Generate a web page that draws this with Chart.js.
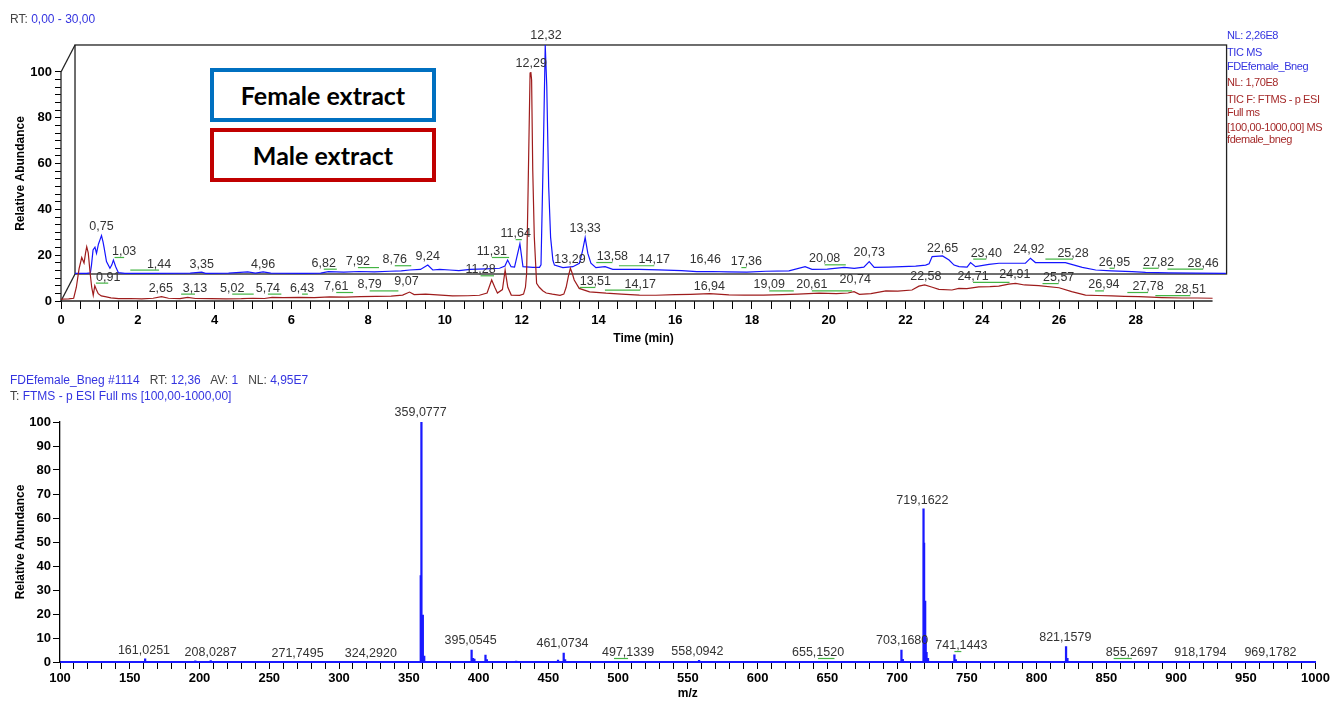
<!DOCTYPE html>
<html>
<head>
<meta charset="utf-8">
<script src="https://cdn.jsdelivr.net/npm/chart.js@4.4.1/dist/chart.umd.min.js"></script>
<style>
  body { margin: 0; background: #fff; }
  #lienzo { position: relative; width: 1332px; height: 701px; overflow: hidden;
            font-family: "Liberation Sans", Arial, sans-serif; }
  canvas { position: absolute; left: 0; }
  #g1 { top: 0; }
  #g2 { top: 370px; }
  .txt { position: absolute; white-space: pre; font-size: 12px; line-height: 14px; }
  .der { font-size: 11px; letter-spacing: -0.4px; left: 1227px; }
  .az { color: #3434e0; }
  .gr { color: #444; }
  .rj { color: #a52a2a; }
  .caja { position: absolute; box-sizing: border-box; width: 226px; height: 54px;
          border: 4px solid; background: #fff; color: #000;
          font-family: Lato, "Open Sans", sans-serif; font-weight: bold; font-size: 25px;
          display: flex; align-items: center; justify-content: center; }
</style>
</head>
<body>
<div id="lienzo">
  <canvas id="g1" width="1332" height="352" style="width:1332px;height:352px"></canvas>
  <canvas id="g2" width="1332" height="331" style="width:1332px;height:331px"></canvas>

  <div class="txt" style="left:10px;top:12px"><span class="gr">RT: </span><span class="az">0,00 - 30,00</span></div>

  <div class="txt der az" style="top:28px">NL: 2,26E8</div>
  <div class="txt der az" style="top:45px">TIC MS</div>
  <div class="txt der az" style="top:59px">FDEfemale_Bneg</div>
  <div class="txt der rj" style="top:75px">NL: 1,70E8</div>
  <div class="txt der rj" style="top:92px">TIC F: FTMS - p ESI</div>
  <div class="txt der rj" style="top:105px">Full ms</div>
  <div class="txt der rj" style="top:120px">[100,00-1000,00] MS</div>
  <div class="txt der rj" style="top:132px">fdemale_bneg</div>

  <div class="caja" style="left:210px;top:68px;border-color:#0070c0">Female extract</div>
  <div class="caja" style="left:210px;top:128px;border-color:#c00000">Male extract</div>

  <div class="txt" style="left:10px;top:373px"><span class="az">FDEfemale_Bneg #1114   </span><span class="gr">RT: </span><span class="az">12,36   </span><span class="gr">AV: </span><span class="az">1   </span><span class="gr">NL: </span><span class="az">4,95E7</span></div>
  <div class="txt" style="left:10px;top:389px"><span class="gr">T: </span><span class="az">FTMS - p ESI Full ms [100,00-1000,00]</span></div>
</div>

<script>
// -----------------------------------------------------------
// datos leidos de la figura
// cromatograma: [tiempo (min), abundancia relativa]
// -----------------------------------------------------------
const tic_macho = [
  [0,0.8],[0.2,0.9],[0.33,1.2],[0.4,6],[0.47,14],[0.54,19],[0.6,16.6],[0.64,21],[0.67,23.7],
  [0.71,21],[0.76,12],[0.8,6],[0.84,2.5],[0.88,6.7],[0.92,5],[0.97,3.2],[1.05,2.2],[1.15,1.9],
  [1.3,1.4],[1.5,1],[1.8,1.1],[2.1,0.9],[2.4,1.2],[2.62,1.9],[2.8,1.2],[3.1,1],[3.3,1.6],[3.5,1.1],
  [3.9,1],[4.3,0.9],[4.7,1],[5.0,1.2],[5.3,1.1],[5.5,1.6],[5.8,1.5],[6.2,1.6],[6.6,1.5],[7.0,1.8],
  [7.4,1.7],[7.8,1.9],[8.2,2],[8.6,2.1],[8.9,2.6],[9.08,3.9],[9.2,2.8],[9.5,3],[9.9,2.6],[10.2,2.2],
  [10.6,2.3],[10.9,2.5],[11.1,3.5],[11.22,9.2],[11.3,6],[11.37,3.5],[11.5,5],[11.57,13.5],[11.64,6],
  [11.73,2.6],[11.95,2.5],[12.05,3],[12.1,6],[12.13,12],[12.17,50],[12.22,99.5],[12.24,100],
  [12.26,96.5],[12.29,57],[12.33,28],[12.39,7.7],[12.46,6],[12.55,4.5],[12.64,3.5],[12.8,3],
  [13.0,2.5],[13.1,3],[13.16,6],[13.22,11],[13.27,14.3],[13.32,12],[13.37,9.2],[13.5,5.5],
  [13.77,4],[14.2,3.4],[14.6,3],[15.07,2.6],[15.5,2.5],[16.0,2.8],[16.4,2.9],[16.9,3.2],[17.4,2.7],
  [17.8,2.6],[18.3,2.6],[18.8,2.8],[19.2,3],[19.75,3.4],[20.2,3.2],[20.5,3.5],[20.66,4.1],[20.8,2.9],
  [21.1,3.2],[21.49,4.4],[21.8,4.3],[22.17,4.8],[22.35,6.5],[22.5,7],[22.7,6],[22.87,5.1],
  [23.21,4.8],[23.39,5.5],[23.6,5.4],[23.91,6.2],[24.2,6.3],[24.43,6.5],[24.69,7.4],[24.87,7.7],
  [25.1,7],[25.47,6.7],[26.0,5.8],[26.33,4.1],[26.69,2.6],[27.0,2.4],[27.38,2.2],[27.7,2],
  [28.08,1.9],[28.4,1.7],[28.68,1.5],[29.2,1.3],[29.6,1.3],[30.0,1.2]
];

const tic_hembra = [
  [0,0.3],[0.3,0.3],[0.4,0.5],[0.43,4],[0.47,10.5],[0.52,11.7],[0.56,9],[0.61,13],[0.65,14.9],
  [0.69,16.8],[0.73,14],[0.76,11.3],[0.82,5.4],[0.91,2.5],[0.96,4],[1.0,6.1],[1.06,3.2],[1.13,0.6],
  [1.3,0.3],[2.0,0.3],[3.0,0.4],[3.3,0.8],[3.4,0.3],[4.0,0.4],[4.5,0.9],[4.7,0.4],[4.9,0.9],[5.1,0.4],
  [6.0,0.3],[6.4,0.4],[6.6,1],[7.0,0.8],[7.4,1.1],[7.8,0.9],[8.2,1.2],[8.5,1.4],[8.72,1.75],[9.0,2],
  [9.19,3.9],[9.32,1.75],[9.5,2],[9.76,1.75],[10.0,1.5],[10.3,2],[10.7,2.2],[11.06,2.5],[11.2,3.5],
  [11.27,6.1],[11.36,3.2],[11.45,3],[11.59,13.2],[11.67,3.2],[11.93,2.9],[12.1,2.9],[12.14,4],
  [12.2,53],[12.25,100],[12.29,82],[12.34,38],[12.39,16],[12.45,6],[12.49,3.9],[12.71,2.8],
  [12.97,3.2],[13.14,4.7],[13.22,10],[13.29,15.9],[13.36,9],[13.44,4.7],[13.57,2.8],[13.81,3.2],
  [14.01,2],[14.7,2],[15.2,1.8],[15.8,1.5],[16.2,1],[16.6,1.1],[17.0,0.9],[17.5,0.8],[18.0,1.2],
  [18.6,1.4],[19.02,3.2],[19.2,2],[19.6,2.1],[20.04,2.9],[20.3,2.5],[20.55,3],[20.69,5.4],
  [20.82,2.9],[21.2,3],[21.55,3.2],[21.9,3.4],[22.16,3.9],[22.25,4.5],[22.33,7.6],[22.6,7.9],
  [22.77,6.1],[22.9,3.9],[23.03,3.2],[23.24,3],[23.33,5],[23.46,3.2],[23.81,4.2],[24.07,4.7],
  [24.76,4.7],[24.89,6.9],[25.02,5],[25.8,5],[26.24,2.9],[26.59,1.75],[27.0,1.4],[27.54,1],
  [27.89,0.7],[28.5,0.5],[29.2,0.4],[29.98,0.3]
];

// tiempos de retencion rotulados en cada traza
const rt_hembra = [0.75,1.03,1.44,3.35,4.96,6.82,7.92,8.76,9.24,11.31,11.64,12.32,13.33,13.58,
  14.17,16.46,17.36,20.08,20.73,22.65,23.40,24.92,25.28,26.95,27.82,28.46];
const rt_macho = [0.91,2.65,3.13,5.02,5.74,6.43,7.61,8.79,9.07,11.28,12.29,13.29,13.51,14.17,
  16.94,19.09,20.61,20.74,22.58,24.71,24.91,25.57,26.94,27.78,28.51];

// espectro de masas: m/z e intensidad relativa
const mz_picos = [161.03,197.0,208.03,271.75,324.29,358.6,359.08,359.5,360.08,361.08,395.05,
  396.06,397.05,405.0,406.0,427.0,457.0,461.07,462.08,497.13,558.09,655.15,703.17,704.17,719.0,
  719.4,720.17,720.5,721.17,722.2,741.14,742.15,821.16,822.16,855.27,918.18,969.18];
const intensidad_picos = [1.3,0.5,0.6,0.3,0.3,36,100,15,19.5,2.5,5,1.5,1.2,2.9,1.0,0.4,0.8,3.7,
  1.0,0.3,0.7,0.3,5,1.1,63.8,49.6,25.4,10,4,1.5,3,1,6.4,1.5,0.3,0.2,0.2];
const mz_rotulos = [161.0251,208.0287,271.7495,324.2920,359.0777,395.0545,461.0734,497.1339,
  558.0942,655.1520,703.1680,719.1622,741.1443,821.1579,855.2697,918.1794,969.1782];

// -----------------------------------------------------------
// donde aparece cada rotulo (en unidades de los ejes)
// -----------------------------------------------------------
const lugar_rot_hembra = [[0.69,19.3],[1.28,8.3],[2.19,2.8],[3.3,2.8],[4.9,2.8],[6.48,3.2],
  [7.37,3.9],[8.33,4.7],[9.19,6.1],[10.86,8.3],[11.48,16.1],[12.27,102.6],[13.29,18.3],[14.0,6.1],
  [15.09,4.7],[16.42,4.7],[17.49,3.9],[19.53,5.1],[20.69,7.9],[22.6,9.8],[23.74,7.6],[24.85,9.1],
  [26.0,7.6],[27.08,3.6],[28.23,3.6],[29.39,3.2]];
const lugar_rot_macho = [[1.23,8.9],[2.6,4.1],[3.49,4.1],[4.46,4.1],[5.39,4.1],[6.28,4.1],
  [7.17,4.8],[8.04,5.5],[9.0,7],[10.93,12.1],[12.25,102.3],[13.26,16.7],[13.92,7],[15.09,5.8],
  [16.89,4.8],[18.45,5.5],[19.56,5.5],[20.69,7.7],[22.53,9.2],[23.76,9.2],[24.85,10.2],
  [25.99,8.7],[27.17,5.5],[28.32,4.8],[29.42,3.4]];
const lugar_rot_espectro = [[160.2,3.3],[208,2.5],[270.3,2.2],[322.8,2.2],[358.5,102.5],
  [394.3,7.4],[460.2,6.1],[507.2,2.5],[556.9,2.8],[643.4,2.5],[703.7,7.4],[718.2,66],[746.1,5.4],
  [820.6,8.9],[868.3,2.5],[917.4,2.5],[967.7,2.5]];

const fuente = '"Liberation Sans", Arial, sans-serif';
Chart.defaults.font.family = fuente;

const con_coma = (v, d) => v.toFixed(d).replace('.', ',');

// dibuja los rotulos de los picos, con la linea verde cuando el rotulo
// quedo corrido respecto de su pico
function dibujar_rotulos(ctx, ex, ey, valores, lugares, decimales) {
  ctx.save();
  ctx.font = '12.5px ' + fuente;
  ctx.textAlign = 'center';
  ctx.textBaseline = 'alphabetic';
  valores.forEach((v, i) => {
    const px = ex.getPixelForValue(lugares[i][0]);
    const py = ey.getPixelForValue(lugares[i][1]);
    const px_pico = ex.getPixelForValue(v);
    if (Math.abs(px - px_pico) > 4) {
      ctx.strokeStyle = '#43b443';
      ctx.lineWidth = 1.2;
      ctx.beginPath();
      ctx.moveTo(px_pico, py + 2.5);
      ctx.lineTo(px, py + 2.5);
      ctx.stroke();
    }
    ctx.fillStyle = '#333';
    ctx.fillText(con_coma(v, decimales), px, py);
  });
  ctx.restore();
}

// marco de la traza desplazada (hembra) y ejes de la traza de abajo
const marco_cromatograma = {
  id: 'marco_cromatograma',
  beforeDatasetsDraw(chart) {
    const { ctx } = chart;
    const { x, y, xb, yb } = chart.scales;
    const linea = (x1, y1, x2, y2) => { ctx.beginPath(); ctx.moveTo(x1, y1); ctx.lineTo(x2, y2); ctx.stroke(); };
    ctx.save();
    ctx.strokeStyle = '#222';
    ctx.lineWidth = 1.3;
    // ejes de la traza macho
    linea(x.getPixelForValue(0), y.getPixelForValue(0), x.getPixelForValue(30), y.getPixelForValue(0));
    linea(x.getPixelForValue(0), y.getPixelForValue(0), x.getPixelForValue(0), y.getPixelForValue(100));
    // caja de la traza hembra
    ctx.strokeRect(xb.getPixelForValue(0), yb.getPixelForValue(100),
      xb.getPixelForValue(30) - xb.getPixelForValue(0), yb.getPixelForValue(0) - yb.getPixelForValue(100));
    // diagonales que unen las dos trazas
    linea(x.getPixelForValue(0), y.getPixelForValue(0), xb.getPixelForValue(0), yb.getPixelForValue(0));
    linea(x.getPixelForValue(0), y.getPixelForValue(100), xb.getPixelForValue(0), yb.getPixelForValue(100));
    ctx.restore();
  },
  afterDatasetsDraw(chart) {
    const s = chart.scales;
    dibujar_rotulos(chart.ctx, s.xb, s.yb, rt_hembra, lugar_rot_hembra, 2);
    dibujar_rotulos(chart.ctx, s.x, s.y, rt_macho, lugar_rot_macho, 2);
  }
};

const rotulos_espectro = {
  id: 'rotulos_espectro',
  afterDatasetsDraw(chart) {
    dibujar_rotulos(chart.ctx, chart.scales.x, chart.scales.y, mz_rotulos, lugar_rot_espectro, 4);
  }
};

const ticks_negrita = { color: '#000', font: { size: 13, weight: 'bold' }, autoSkip: false, maxRotation: 0 };

// -----------------------------------------------------------
// grafico de arriba: cromatogramas (TIC)
// -----------------------------------------------------------
new Chart(document.getElementById('g1'), {
  type: 'line',
  data: {
    datasets: [
      { data: tic_macho.map(p => ({ x: p[0], y: p[1] })), xAxisID: 'x', yAxisID: 'y',
        borderColor: '#9e1c1c', borderWidth: 1.2, pointRadius: 0, tension: 0, clip: false },
      { data: tic_hembra.map(p => ({ x: p[0], y: p[1] })), xAxisID: 'xb', yAxisID: 'yb',
        borderColor: '#1414ff', borderWidth: 1.2, pointRadius: 0, tension: 0, clip: false }
    ]
  },
  options: {
    responsive: false, animation: false, devicePixelRatio: 1,
    layout: { padding: { top: 46, right: 106, left: 0, bottom: 0 } },
    plugins: { legend: { display: false }, tooltip: { enabled: false } },
    scales: {
      x: {
        type: 'linear', min: 0, max: 30.35,
        border: { display: false },
        grid: { drawOnChartArea: false, tickLength: 8, color: '#000' },
        afterBuildTicks: s => { s.ticks = []; for (let i = 0; i < 60; i++) s.ticks.push({ value: i * 0.5 }); },
        afterFit: s => { s.height = 51; },
        ticks: { ...ticks_negrita, padding: 4, callback: v => (v % 2 === 0 ? String(v) : '') },
        title: { display: true, text: 'Time (min)', color: '#000', font: { size: 12, weight: 'bold' }, padding: { top: 0, bottom: 6 } }
      },
      y: {
        type: 'linear', min: 0, max: 111.35,
        border: { display: false },
        grid: { drawOnChartArea: false, tickLength: 6, color: '#000' },
        afterBuildTicks: s => { s.ticks = []; for (let i = 0; i <= 30; i++) s.ticks.push({ value: i * 10 / 3 }); },
        afterFit: s => { s.width = 61; },
        ticks: { ...ticks_negrita, padding: 3,
          callback: v => { const r = v / 20; return Math.abs(r - Math.round(r)) < 1e-6 ? String(Math.round(v)) : ''; } },
        title: { display: true, text: 'Relative Abundance', color: '#000', font: { size: 12, weight: 'bold' }, padding: { top: 13, bottom: 0 } }
      },
      xb: { type: 'linear', axis: 'x', display: false, min: -0.365, max: 29.985 },
      yb: { type: 'linear', axis: 'y', display: false, min: -11.79, max: 99.56 }
    }
  },
  plugins: [marco_cromatograma]
});

// -----------------------------------------------------------
// grafico de abajo: espectro de masas
// -----------------------------------------------------------
new Chart(document.getElementById('g2'), {
  type: 'bar',
  data: {
    datasets: [{
      data: mz_picos.map((m, i) => ({ x: m, y: intensidad_picos[i] })),
      backgroundColor: '#1a1aff', barThickness: 1.6, grouped: false
    }]
  },
  options: {
    responsive: false, animation: false, devicePixelRatio: 1,
    layout: { padding: { top: 52, right: 16, left: 0, bottom: 0 } },
    plugins: { legend: { display: false }, tooltip: { enabled: false } },
    scales: {
      x: {
        type: 'linear', min: 100, max: 1000, offset: false,
        border: { color: '#1a1aff', width: 2 },
        grid: { offset: false, drawOnChartArea: false, tickLength: 7, color: '#000' },
        afterBuildTicks: s => { s.ticks = []; for (let v = 100; v <= 1000; v += 10) s.ticks.push({ value: v }); },
        afterFit: s => { s.height = 39; },
        ticks: { ...ticks_negrita, padding: 2, callback: v => (v % 50 === 0 ? String(v) : '') },
        title: { display: true, text: 'm/z', color: '#000', font: { size: 12, weight: 'bold' }, padding: { top: 0, bottom: 0 } }
      },
      y: {
        min: 0, max: 100,
        border: { color: '#000', width: 1.3 },
        grid: { drawOnChartArea: false, tickLength: 7, color: '#000' },
        afterFit: s => { s.width = 60; },
        ticks: { ...ticks_negrita, stepSize: 10, padding: 2 },
        title: { display: true, text: 'Relative Abundance', color: '#000', font: { size: 12, weight: 'bold' }, padding: { top: 13, bottom: 0 } }
      }
    }
  },
  plugins: [rotulos_espectro]
});
</script>
</body>
</html>
